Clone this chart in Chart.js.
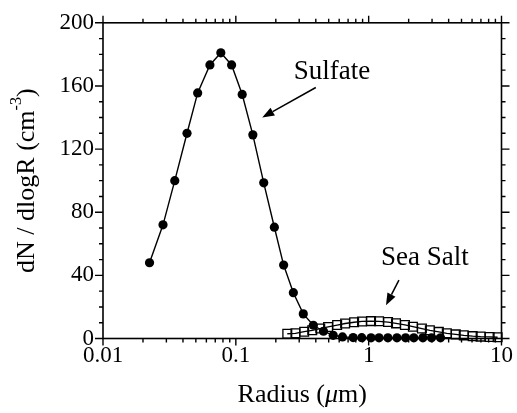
<!DOCTYPE html>
<html lang="en">
<head>
  <meta charset="UTF-8">
  <title>Sulfate and sea salt size distribution</title>
  <script src="https://cdn.jsdelivr.net/npm/chart.js"></script>
  <style>
    body {
      margin: 0;
      background: white;
    }
    #wrap {
      width: 517px;
      height: 413px;
    }
  </style>
</head>
<body>
  <div id="wrap">
    <canvas id="graphique" width="517" height="413"></canvas>
  </div>

  <script>
    // radius (um) and dN/dlogR (cm-3)
    const sulfateRadius = [0.0224, 0.0283, 0.0347, 0.0429, 0.0516, 0.0638, 0.0771, 0.0929, 0.1117, 0.1343,
      0.1622, 0.195, 0.229, 0.271, 0.322, 0.383, 0.457, 0.541, 0.635, 0.764,
      0.887, 1.042, 1.197, 1.396, 1.633, 1.897, 2.188, 2.559, 2.972, 3.475];
    const sulfateConc = [48, 72, 100, 130, 155.6, 173.3, 181, 173.3, 154.6, 129,
      98.6, 70.5, 46.5, 29, 15.6, 8.4, 4.6, 2, 1, 0.6,
      0.5, 0.4, 0.4, 0.4, 0.4, 0.4, 0.4, 0.4, 0.4, 0.4];

    const seaSaltRadius = [0.244, 0.281, 0.327, 0.376, 0.432, 0.495, 0.579, 0.665, 0.777, 0.891,
      1.042, 1.197, 1.399, 1.606, 1.875, 2.153, 2.516, 2.889, 3.375, 3.875,
      4.525, 5.197, 6.067, 6.966, 8.14, 9.35];
    const seaSaltConc = [3.0, 3.3, 4.3, 5.2, 6.3, 7.3, 8.5, 9.5, 10.3, 10.8,
      11.0, 10.9, 10.4, 9.6, 8.6, 7.5, 6.3, 5.2, 4.2, 3.3,
      2.6, 2.0, 1.5, 1.2, 1.0, 0.8];

    const xTickLabels = [0.01, 0.1, 1, 10];
    const yTickStep = 40;
    const yMinorStep = 10;

    // text labels with arrows, in data coordinates
    const annotations = [
      { text: "Sulfate", x: 0.53, y: 169, from: [0.40, 159], to: [0.158, 140] },
      { text: "Sea Salt", x: 2.65, y: 51, from: [1.69, 37], to: [1.35, 21] }
    ];

    const serif = "'Liberation Serif', 'Times New Roman', serif";

    function pts(xs, ys) {
      return xs.map((x, i) => ({ x: x, y: ys[i] }));
    }

    function drawParts(ctx, parts, size) {
      // parts: [{t, sup, italic}], drawn centered on (0,0)
      let total = 0;
      const widths = parts.map(p => {
        ctx.font = (p.italic ? "italic " : "") + (p.sup ? size * 0.62 : size) + "px " + serif;
        const w = ctx.measureText(p.t).width;
        total += w;
        return w;
      });
      let x = -total / 2;
      parts.forEach((p, i) => {
        ctx.font = (p.italic ? "italic " : "") + (p.sup ? size * 0.62 : size) + "px " + serif;
        ctx.fillText(p.t, x, p.sup ? -size * 0.38 : 0);
        x += widths[i];
      });
    }

    const decorPlugin = {
      id: "decor",
      afterDraw(chart) {
        const ctx = chart.ctx;
        const a = chart.chartArea;
        const xs = chart.scales.x;
        const ys = chart.scales.y;
        ctx.save();
        ctx.strokeStyle = "#000";
        ctx.fillStyle = "#000";
        ctx.lineWidth = 1.6;
        ctx.strokeRect(a.left, a.top, a.right - a.left, a.bottom - a.top);

        // log ticks on bottom and top, outward
        ctx.lineWidth = 1.4;
        ctx.beginPath();
        for (let e = -2; e <= 1; e++) {
          for (let m = 1; m <= 9; m++) {
            const v = m * Math.pow(10, e);
            if (v > 10.0001) break;
            const px = xs.getPixelForValue(v);
            const len = m === 1 ? 7 : 4;
            ctx.moveTo(px, a.bottom); ctx.lineTo(px, a.bottom + len);
            ctx.moveTo(px, a.top); ctx.lineTo(px, a.top - len);
          }
        }
        // linear ticks on left and right, outward
        for (let v = 0; v <= 200; v += yMinorStep) {
          const py = ys.getPixelForValue(v);
          const len = v % yTickStep === 0 ? 8 : 4;
          ctx.moveTo(a.left, py); ctx.lineTo(a.left - len, py);
          ctx.moveTo(a.right, py); ctx.lineTo(a.right + len, py);
        }
        ctx.stroke();

        // axis titles
        ctx.textBaseline = "middle";
        ctx.textAlign = "left";
        ctx.save();
        ctx.translate(27, (a.top + a.bottom) / 2);
        ctx.rotate(-Math.PI / 2);
        drawParts(ctx, [{ t: "dN / dlogR (cm" }, { t: "-3", sup: true }, { t: ")" }], 26);
        ctx.restore();
        ctx.save();
        ctx.translate((a.left + a.right) / 2, 395);
        drawParts(ctx, [{ t: "Radius (" }, { t: "\u03bc", italic: true }, { t: "m)" }], 26);
        ctx.restore();

        // annotations with arrows
        annotations.forEach(an => {
          ctx.font = "27px " + serif;
          ctx.textAlign = "center";
          ctx.textBaseline = "middle";
          ctx.fillText(an.text, xs.getPixelForValue(an.x), ys.getPixelForValue(an.y));
          const x0 = xs.getPixelForValue(an.from[0]), y0 = ys.getPixelForValue(an.from[1]);
          const x1 = xs.getPixelForValue(an.to[0]), y1 = ys.getPixelForValue(an.to[1]);
          const ang = Math.atan2(y1 - y0, x1 - x0);
          const head = 12, half = 4.5;
          const bx = x1 - head * Math.cos(ang), by = y1 - head * Math.sin(ang);
          ctx.lineWidth = 1.5;
          ctx.beginPath();
          ctx.moveTo(x0, y0); ctx.lineTo(bx, by);
          ctx.stroke();
          ctx.beginPath();
          ctx.moveTo(x1, y1);
          ctx.lineTo(bx + half * Math.sin(ang), by - half * Math.cos(ang));
          ctx.lineTo(bx - half * Math.sin(ang), by + half * Math.cos(ang));
          ctx.closePath();
          ctx.fill();
        });
        ctx.restore();
      }
    };

    const ctx = document.getElementById("graphique").getContext("2d");
    const chart = new Chart(ctx, {
      type: "scatter",
      data: {
        datasets: [
          {
            label: "Sulfate",
            data: pts(sulfateRadius, sulfateConc),
            showLine: true,
            borderColor: "#000",
            borderWidth: 1.4,
            pointStyle: "circle",
            pointRadius: 4.6,
            pointBackgroundColor: "#000",
            pointBorderColor: "#000",
            pointBorderWidth: 0,
            clip: false
          },
          {
            label: "Sea Salt",
            data: pts(seaSaltRadius, seaSaltConc),
            showLine: true,
            borderColor: "#000",
            borderWidth: 1.3,
            pointStyle: "rect",
            pointRadius: 6.2,
            pointBackgroundColor: "rgba(0,0,0,0)",
            pointBorderColor: "#000",
            pointBorderWidth: 1.3,
            clip: false
          }
        ]
      },
      options: {
        responsive: false,
        animation: false,
        devicePixelRatio: 1,
        layout: { padding: { top: 22.5, right: 14, left: 0, bottom: 0 } },
        plugins: {
          legend: { display: false },
          tooltip: { enabled: false }
        },
        scales: {
          x: {
            type: "logarithmic",
            min: 0.01,
            max: 10,
            grid: { display: false, drawTicks: false },
            border: { display: false },
            afterFit: s => { s.height = 74.5; },
            ticks: {
              autoSkip: false,
              maxRotation: 0,
              padding: 4,
              color: "#000",
              font: { family: serif, size: 23 },
              callback: v => xTickLabels.some(t => Math.abs(t - v) < t * 1e-6) ? String(v) : ""
            }
          },
          y: {
            min: 0,
            max: 200,
            grid: { display: false, drawTicks: false },
            border: { display: false },
            afterFit: s => { s.width = 103; },
            ticks: {
              stepSize: yTickStep,
              padding: 9,
              color: "#000",
              font: { family: serif, size: 23 }
            }
          }
        }
      },
      plugins: [decorPlugin]
    });
  </script>
</body>
</html>
